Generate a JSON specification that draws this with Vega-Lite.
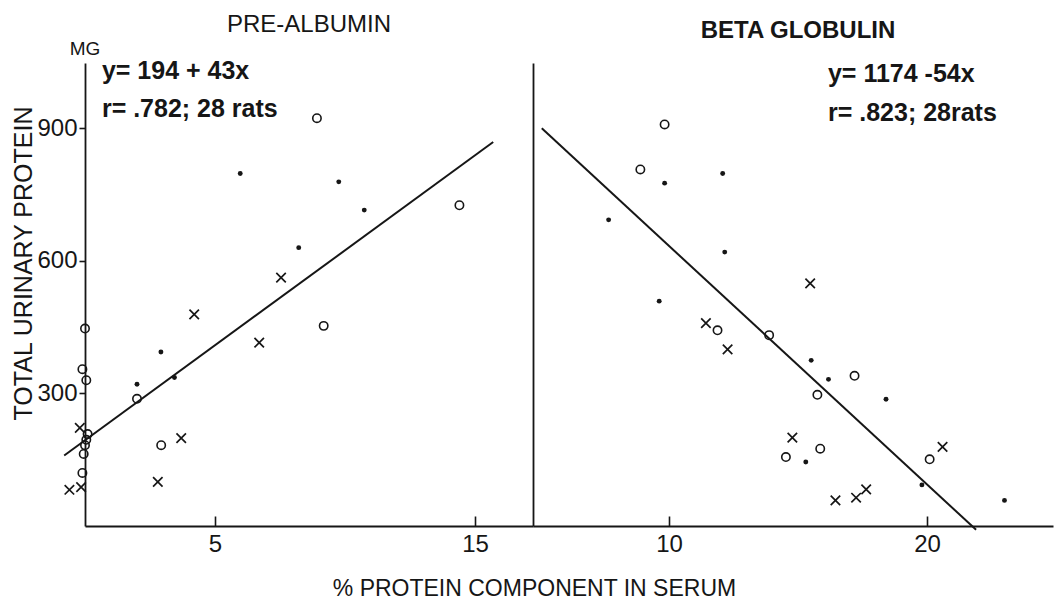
{
  "$schema": "https://vega.github.io/schema/vega-lite/v6.json",
  "background": "white",
  "padding": {"left": 11, "top": 13, "right": 2, "bottom": 2},
  "spacing": 0,
  "config": {
    "view": {"stroke": null},
    "font": "Liberation Sans",
    "axis": {
      "grid": false,
      "domainColor": "#161616",
      "domainWidth": 1.8,
      "tickColor": "#161616",
      "tickWidth": 1.6,
      "labelColor": "#161616",
      "labelFont": "Liberation Sans",
      "labelFontSize": 24,
      "titleColor": "#161616",
      "titleFont": "Liberation Sans",
      "titleFontWeight": "normal"
    }
  },
  "title": {
    "text": "% PROTEIN COMPONENT IN SERUM",
    "orient": "bottom",
    "anchor": "middle",
    "baseline": "alphabetic",
    "font": "Liberation Sans",
    "fontSize": 23,
    "fontWeight": "normal",
    "color": "#161616",
    "offset": 40,
    "dx": 2
  },
  "datasets": {
    "pre": [
      {"pct": 5.97, "mg": 798, "sym": "dot"},
      {"pct": 9.76, "mg": 779, "sym": "dot"},
      {"pct": 10.74, "mg": 715, "sym": "dot"},
      {"pct": 8.22, "mg": 630, "sym": "dot"},
      {"pct": 2.92, "mg": 394, "sym": "dot"},
      {"pct": 3.44, "mg": 336, "sym": "dot"},
      {"pct": 2.0, "mg": 321, "sym": "dot"},
      {"pct": 8.92, "mg": 923, "sym": "circle"},
      {"pct": 14.4, "mg": 726, "sym": "circle"},
      {"pct": 9.18, "mg": 453, "sym": "circle"},
      {"pct": 2.93, "mg": 183, "sym": "circle"},
      {"pct": 2.0, "mg": 288, "sym": "circle"},
      {"pct": 0.0, "mg": 447, "sym": "circle"},
      {"pct": -0.1, "mg": 355, "sym": "circle"},
      {"pct": 0.05, "mg": 330, "sym": "circle"},
      {"pct": 0.1, "mg": 208, "sym": "circle"},
      {"pct": 0.05, "mg": 195, "sym": "circle"},
      {"pct": 0.0, "mg": 183, "sym": "circle"},
      {"pct": -0.05, "mg": 163, "sym": "circle"},
      {"pct": -0.1, "mg": 120, "sym": "circle"},
      {"pct": 7.54, "mg": 562, "sym": "cross"},
      {"pct": 4.2, "mg": 479, "sym": "cross"},
      {"pct": 6.7, "mg": 415, "sym": "cross"},
      {"pct": 3.7, "mg": 199, "sym": "cross"},
      {"pct": 2.8, "mg": 100, "sym": "cross"},
      {"pct": -0.6, "mg": 82, "sym": "cross"},
      {"pct": -0.15, "mg": 88, "sym": "cross"},
      {"pct": -0.2, "mg": 222, "sym": "cross"}
    ],
    "beta": [
      {"pct": 9.83, "mg": 909, "sym": "circle"},
      {"pct": 8.89, "mg": 807, "sym": "circle"},
      {"pct": 11.88, "mg": 443, "sym": "circle"},
      {"pct": 13.88, "mg": 432, "sym": "circle"},
      {"pct": 17.19, "mg": 340, "sym": "circle"},
      {"pct": 15.75, "mg": 297, "sym": "circle"},
      {"pct": 14.53, "mg": 156, "sym": "circle"},
      {"pct": 15.86, "mg": 175, "sym": "circle"},
      {"pct": 20.1, "mg": 151, "sym": "circle"},
      {"pct": 9.83, "mg": 776, "sym": "dot"},
      {"pct": 12.08, "mg": 798, "sym": "dot"},
      {"pct": 7.66, "mg": 693, "sym": "dot"},
      {"pct": 12.16, "mg": 620, "sym": "dot"},
      {"pct": 9.62, "mg": 509, "sym": "dot"},
      {"pct": 15.51, "mg": 375, "sym": "dot"},
      {"pct": 16.18, "mg": 332, "sym": "dot"},
      {"pct": 18.41, "mg": 287, "sym": "dot"},
      {"pct": 15.3, "mg": 145, "sym": "dot"},
      {"pct": 19.8, "mg": 93, "sym": "dot"},
      {"pct": 23.0, "mg": 58, "sym": "dot"},
      {"pct": 11.43, "mg": 459, "sym": "cross"},
      {"pct": 12.27, "mg": 400, "sym": "cross"},
      {"pct": 15.47, "mg": 549, "sym": "cross"},
      {"pct": 14.78, "mg": 200, "sym": "cross"},
      {"pct": 16.45, "mg": 58, "sym": "cross"},
      {"pct": 17.25, "mg": 64, "sym": "cross"},
      {"pct": 17.64, "mg": 83, "sym": "cross"},
      {"pct": 20.6, "mg": 179, "sym": "cross"}
    ],
    "preFit": [
      {"pct": -0.8, "mg": 159.6},
      {"pct": 15.7, "mg": 869.1}
    ],
    "betaFit": [
      {"pct": 5.07, "mg": 900.2},
      {"pct": 21.9, "mg": -8.6}
    ],
    "preNotes": [
      {"pct": 0.65, "mg": 1012, "note": "y= 194 + 43x"},
      {"pct": 0.65, "mg": 925, "note": "r= .782; 28 rats"}
    ],
    "betaNotes": [
      {"pct": 16.16, "mg": 1005, "note": "y= 1174 -54x"},
      {"pct": 16.16, "mg": 917, "note": "r= .823; 28rats"}
    ],
    "unit": [
      {"pct": 0, "mg": 1066, "note": "MG"}
    ]
  },
  "hconcat": [
    {
      "width": 448,
      "height": 463,
      "title": {
        "text": "PRE-ALBUMIN",
        "font": "Liberation Sans",
        "fontSize": 24,
        "fontWeight": "normal",
        "color": "#161616",
        "baseline": "alphabetic",
        "offset": -16
      },
      "layer": [
        {
          "data": {"name": "preFit"},
          "mark": {"type": "line", "color": "#161616", "strokeWidth": 2},
          "encoding": {
            "x": {
              "field": "pct",
              "type": "quantitative",
              "scale": {"domain": [0, 17.23], "nice": false, "zero": false},
              "axis": {"orient": "bottom", "values": [5, 15], "tickSize": -10, "labelPadding": 16, "title": null}
            },
            "y": {
              "field": "mg",
              "type": "quantitative",
              "scale": {"domain": [0, 1048], "nice": false},
              "axis": {
                "orient": "left",
                "values": [300, 600, 900],
                "tickSize": 6,
                "labelPadding": 2,
                "title": "TOTAL URINARY PROTEIN",
                "titleFontSize": 25,
                "titlePadding": 0,
                "titleY": 200
              }
            }
          }
        },
        {
          "data": {"name": "pre"},
          "transform": [{"filter": "datum.sym === 'dot'"}],
          "mark": {"type": "point", "shape": "circle", "filled": true, "size": 24, "color": "#161616", "opacity": 1},
          "encoding": {
            "x": {"field": "pct", "type": "quantitative"},
            "y": {"field": "mg", "type": "quantitative"}
          }
        },
        {
          "data": {"name": "pre"},
          "transform": [{"filter": "datum.sym === 'circle'"}],
          "mark": {"type": "point", "shape": "circle", "filled": false, "size": 70, "strokeWidth": 1.6, "color": "#161616", "opacity": 1},
          "encoding": {
            "x": {"field": "pct", "type": "quantitative"},
            "y": {"field": "mg", "type": "quantitative"}
          }
        },
        {
          "data": {"name": "pre"},
          "transform": [{"filter": "datum.sym === 'cross'"}],
          "mark": {"type": "point", "shape": "M-1,-1L1,1M-1,1L1,-1", "filled": false, "size": 90, "strokeWidth": 1.7, "color": "#161616", "opacity": 1},
          "encoding": {
            "x": {"field": "pct", "type": "quantitative"},
            "y": {"field": "mg", "type": "quantitative"}
          }
        },
        {
          "data": {"name": "preNotes"},
          "mark": {"type": "text", "align": "left", "baseline": "alphabetic", "font": "Liberation Sans", "fontSize": 25, "fontWeight": "bold", "color": "#161616"},
          "encoding": {
            "x": {"field": "pct", "type": "quantitative"},
            "y": {"field": "mg", "type": "quantitative"},
            "text": {"field": "note"}
          }
        },
        {
          "data": {"name": "unit"},
          "mark": {"type": "text", "align": "center", "baseline": "alphabetic", "font": "Liberation Sans", "fontSize": 19, "color": "#161616"},
          "encoding": {
            "x": {"field": "pct", "type": "quantitative"},
            "y": {"field": "mg", "type": "quantitative"},
            "text": {"field": "note"}
          }
        }
      ]
    },
    {
      "width": 520,
      "height": 463,
      "title": {
        "text": "BETA GLOBULIN",
        "font": "Liberation Sans",
        "fontSize": 24,
        "fontWeight": "bold",
        "color": "#161616",
        "baseline": "alphabetic",
        "offset": 0,
        "dx": 5
      },
      "layer": [
        {
          "data": {"name": "betaFit"},
          "mark": {"type": "line", "color": "#161616", "strokeWidth": 2},
          "encoding": {
            "x": {
              "field": "pct",
              "type": "quantitative",
              "scale": {"domain": [4.73, 24.88], "nice": false, "zero": false},
              "axis": {"orient": "bottom", "values": [10, 20], "tickSize": -10, "labelPadding": 16, "title": null}
            },
            "y": {
              "field": "mg",
              "type": "quantitative",
              "scale": {"domain": [0, 1048], "nice": false},
              "axis": {"orient": "left", "labels": false, "ticks": false, "title": null}
            }
          }
        },
        {
          "mark": {"type": "rule", "color": "#161616", "strokeWidth": 1.8},
          "encoding": {
            "x": {"datum": 24.88, "type": "quantitative"}
          }
        },
        {
          "data": {"name": "beta"},
          "transform": [{"filter": "datum.sym === 'dot'"}],
          "mark": {"type": "point", "shape": "circle", "filled": true, "size": 24, "color": "#161616", "opacity": 1},
          "encoding": {
            "x": {"field": "pct", "type": "quantitative"},
            "y": {"field": "mg", "type": "quantitative"}
          }
        },
        {
          "data": {"name": "beta"},
          "transform": [{"filter": "datum.sym === 'circle'"}],
          "mark": {"type": "point", "shape": "circle", "filled": false, "size": 70, "strokeWidth": 1.6, "color": "#161616", "opacity": 1},
          "encoding": {
            "x": {"field": "pct", "type": "quantitative"},
            "y": {"field": "mg", "type": "quantitative"}
          }
        },
        {
          "data": {"name": "beta"},
          "transform": [{"filter": "datum.sym === 'cross'"}],
          "mark": {"type": "point", "shape": "M-1,-1L1,1M-1,1L1,-1", "filled": false, "size": 90, "strokeWidth": 1.7, "color": "#161616", "opacity": 1},
          "encoding": {
            "x": {"field": "pct", "type": "quantitative"},
            "y": {"field": "mg", "type": "quantitative"}
          }
        },
        {
          "data": {"name": "betaNotes"},
          "mark": {"type": "text", "align": "left", "baseline": "alphabetic", "font": "Liberation Sans", "fontSize": 25, "fontWeight": "bold", "color": "#161616"},
          "encoding": {
            "x": {"field": "pct", "type": "quantitative"},
            "y": {"field": "mg", "type": "quantitative"},
            "text": {"field": "note"}
          }
        }
      ]
    }
  ]
}
